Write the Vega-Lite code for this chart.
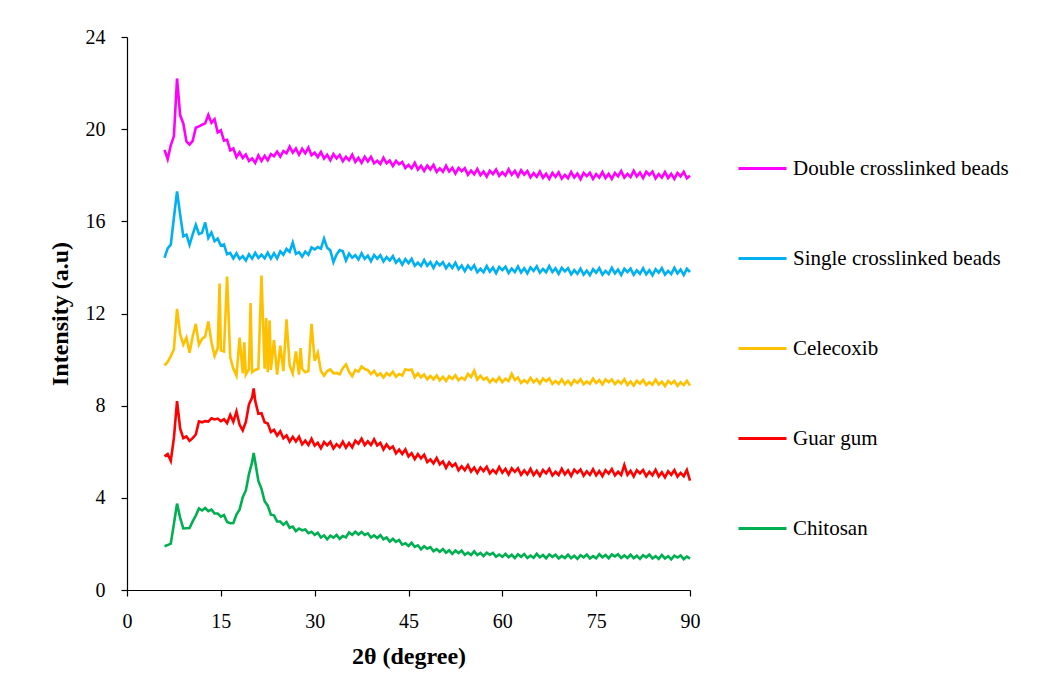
{
"$schema":"https://vega.github.io/schema/vega-lite/v6.json",
"width":563,"height":553,
"autosize":{"type":"none"},
"padding":{"left":127,"top":37,"right":351,"bottom":108},
"background":"white",
"data":{"values":[
{"x":6,"D":19.1,"S":14.42,"C":9.75,"G":5.8,"H":1.9},
{"x":6.5,"D":18.7,"S":14.83,"C":9.9,"G":5.9,"H":1.95},
{"x":7,"D":19.3,"S":14.99,"C":10.15,"G":5.6,"H":2.01},
{"x":7.5,"D":19.7,"S":16.16,"C":10.45,"G":6.6,"H":2.87},
{"x":8,"D":22.2,"S":17.3,"C":12.2,"G":8.2,"H":3.75},
{"x":8.5,"D":20.6,"S":16.29,"C":11.1,"G":7.0,"H":3.13},
{"x":9,"D":20.25,"S":15.35,"C":10.65,"G":6.59,"H":2.67},
{"x":9.5,"D":19.47,"S":15.42,"C":10.95,"G":6.66,"H":2.68},
{"x":10,"D":19.33,"S":14.98,"C":10.3,"G":6.47,"H":2.69},
{"x":10.5,"D":19.49,"S":15.43,"C":11.0,"G":6.59,"H":2.98},
{"x":11,"D":20.06,"S":15.85,"C":11.55,"G":6.75,"H":3.23},
{"x":11.5,"D":20.12,"S":15.45,"C":10.65,"G":7.32,"H":3.54},
{"x":12,"D":20.19,"S":15.5,"C":10.9,"G":7.28,"H":3.45},
{"x":12.5,"D":20.25,"S":15.95,"C":11.0,"G":7.33,"H":3.56},
{"x":13,"D":20.62,"S":15.28,"C":11.65,"G":7.31,"H":3.42},
{"x":13.5,"D":20.28,"S":15.51,"C":10.75,"G":7.45,"H":3.49},
{"x":14,"D":20.43,"S":15.14,"C":10.15,"G":7.4,"H":3.32},
{"x":14.5,"D":19.86,"S":15.25,"C":10.5,"G":7.44,"H":3.32},
{"x":14.8,"C":13.3},
{"x":15,"D":19.95,"S":14.95,"C":10.4,"G":7.33,"H":3.18},
{"x":15.5,"D":19.5,"S":15.0,"C":10.35,"G":7.41,"H":3.25},
{"x":16,"D":19.54,"S":14.57,"C":13.6,"G":7.24,"H":2.95},
{"x":16.5,"D":19.08,"S":14.63,"C":10.1,"G":7.6,"H":2.9},
{"x":17,"D":19.16,"S":14.39,"C":9.6,"G":7.3,"H":2.91},
{"x":17.5,"D":18.79,"S":14.61,"C":9.3,"G":7.75,"H":3.27},
{"x":18,"D":19.0,"S":14.37,"C":10.95,"G":7.17,"H":3.49},
{"x":18.5,"D":18.75,"S":14.49,"C":9.4,"G":6.93,"H":4.03},
{"x":18.75,"C":10.75},
{"x":19,"D":18.9,"S":14.3,"C":9.35,"G":7.29,"H":4.32},
{"x":19.5,"D":18.62,"S":14.57,"C":9.6,"G":8.06,"H":5.03},
{"x":19.75,"C":12.45},
{"x":20,"D":18.73,"S":14.38,"C":9.45,"G":8.35,"H":5.55},
{"x":20.25,"G":8.75,"H":5.95},
{"x":20.5,"D":18.54,"S":14.63,"C":9.55,"G":8.2,"H":5.55},
{"x":21,"D":18.86,"S":14.41,"C":9.6,"G":7.65,"H":4.73},
{"x":21.5,"D":18.62,"S":14.55,"C":13.65,"G":7.67,"H":4.39},
{"x":22,"D":18.84,"S":14.4,"C":9.6,"G":7.28,"H":3.85},
{"x":22.25,"C":11.8},
{"x":22.5,"D":18.65,"S":14.64,"C":9.45,"G":7.23,"H":3.66},
{"x":22.8,"C":11.7},
{"x":23,"D":18.92,"S":14.38,"C":9.55,"G":6.86,"H":3.27},
{"x":23.5,"D":18.83,"S":14.61,"C":10.85,"G":6.95,"H":3.24},
{"x":24,"D":19.03,"S":14.39,"C":9.35,"G":6.7,"H":2.97},
{"x":24.5,"D":18.81,"S":14.7,"C":10.6,"G":6.89,"H":2.97},
{"x":25,"D":19.05,"S":14.55,"C":9.5,"G":6.58,"H":2.83},
{"x":25.5,"D":18.95,"S":14.8,"C":11.75,"G":6.71,"H":2.95},
{"x":26,"D":19.24,"S":14.67,"C":9.75,"G":6.44,"H":2.7},
{"x":26.5,"D":18.98,"S":15.08,"C":9.4,"G":6.65,"H":2.75},
{"x":27,"D":19.16,"S":14.59,"C":10.35,"G":6.45,"H":2.56},
{"x":27.5,"D":18.89,"S":14.66,"C":9.35,"G":6.65,"H":2.67},
{"x":27.75,"C":10.5},
{"x":28,"D":19.15,"S":14.47,"C":9.6,"G":6.32,"H":2.59},
{"x":28.5,"D":18.95,"S":14.69,"C":9.45,"G":6.48,"H":2.63},
{"x":29,"D":19.2,"S":14.55,"C":9.5,"G":6.29,"H":2.47},
{"x":29.5,"D":18.87,"S":14.87,"C":11.55,"G":6.56,"H":2.53},
{"x":30,"D":18.98,"S":14.78,"C":9.95,"G":6.27,"H":2.39},
{"x":30.5,"D":18.79,"S":14.88,"C":10.3,"G":6.39,"H":2.48},
{"x":31,"D":19.01,"S":14.81,"C":9.5,"G":6.15,"H":2.28},
{"x":31.5,"D":18.72,"S":15.25,"C":9.3,"G":6.42,"H":2.37},
{"x":32,"D":18.89,"S":14.85,"C":9.5,"G":6.28,"H":2.2},
{"x":32.5,"D":18.65,"S":14.74,"C":9.57,"G":6.43,"H":2.36},
{"x":33,"D":18.92,"S":14.23,"C":9.4,"G":6.14,"H":2.27},
{"x":33.5,"D":18.73,"S":14.56,"C":9.42,"G":6.33,"H":2.39},
{"x":34,"D":18.88,"S":14.75,"C":9.36,"G":6.2,"H":2.22},
{"x":34.5,"D":18.61,"S":14.7,"C":9.63,"G":6.44,"H":2.34},
{"x":35,"D":18.8,"S":14.3,"C":9.79,"G":6.18,"H":2.28},
{"x":35.5,"D":18.65,"S":14.6,"C":9.47,"G":6.38,"H":2.5},
{"x":36,"D":18.89,"S":14.42,"C":9.28,"G":6.19,"H":2.4},
{"x":36.5,"D":18.58,"S":14.53,"C":9.55,"G":6.48,"H":2.53},
{"x":37,"D":18.76,"S":14.34,"C":9.48,"G":6.35,"H":2.41},
{"x":37.5,"D":18.54,"S":14.61,"C":9.7,"G":6.57,"H":2.52},
{"x":38,"D":18.8,"S":14.37,"C":9.59,"G":6.29,"H":2.39},
{"x":38.5,"D":18.6,"S":14.51,"C":9.54,"G":6.45,"H":2.46},
{"x":39,"D":18.8,"S":14.27,"C":9.37,"G":6.29,"H":2.28},
{"x":39.5,"D":18.52,"S":14.54,"C":9.51,"G":6.54,"H":2.37},
{"x":40,"D":18.63,"S":14.38,"C":9.3,"G":6.27,"H":2.26},
{"x":40.5,"D":18.49,"S":14.53,"C":9.4,"G":6.39,"H":2.38},
{"x":41,"D":18.76,"S":14.26,"C":9.22,"G":6.1,"H":2.2},
{"x":41.5,"D":18.52,"S":14.45,"C":9.41,"G":6.32,"H":2.28},
{"x":42,"D":18.64,"S":14.3,"C":9.31,"G":6.13,"H":2.1},
{"x":42.5,"D":18.4,"S":14.49,"C":9.47,"G":6.23,"H":2.22},
{"x":43,"D":18.62,"S":14.21,"C":9.25,"G":5.93,"H":2.09},
{"x":43.5,"D":18.48,"S":14.36,"C":9.37,"G":6.09,"H":2.17},
{"x":44,"D":18.58,"S":14.12,"C":9.31,"G":5.9,"H":1.97},
{"x":44.5,"D":18.31,"S":14.36,"C":9.58,"G":6.1,"H":2.03},
{"x":45,"D":18.45,"S":14.19,"C":9.54,"G":5.8,"H":1.91},
{"x":45.5,"D":18.3,"S":14.37,"C":9.57,"G":5.94,"H":2.05},
{"x":46,"D":18.54,"S":14.07,"C":9.23,"G":5.68,"H":1.87},
{"x":46.5,"D":18.25,"S":14.21,"C":9.4,"G":5.9,"H":1.94},
{"x":47,"D":18.41,"S":14.06,"C":9.23,"G":5.71,"H":1.77},
{"x":47.5,"D":18.19,"S":14.32,"C":9.35,"G":5.87,"H":1.9},
{"x":48,"D":18.42,"S":14.07,"C":9.14,"G":5.55,"H":1.79},
{"x":48.5,"D":18.25,"S":14.23,"C":9.29,"G":5.67,"H":1.86},
{"x":49,"D":18.45,"S":13.98,"C":9.14,"G":5.49,"H":1.68},
{"x":49.5,"D":18.15,"S":14.24,"C":9.31,"G":5.73,"H":1.77},
{"x":50,"D":18.3,"S":14.09,"C":9.1,"G":5.45,"H":1.66},
{"x":50.5,"D":18.15,"S":14.23,"C":9.25,"G":5.58,"H":1.78},
{"x":51,"D":18.41,"S":13.96,"C":9.07,"G":5.3,"H":1.62},
{"x":51.5,"D":18.16,"S":14.15,"C":9.28,"G":5.54,"H":1.72},
{"x":52,"D":18.32,"S":13.98,"C":9.16,"G":5.37,"H":1.57},
{"x":52.5,"D":18.07,"S":14.2,"C":9.32,"G":5.49,"H":1.71},
{"x":53,"D":18.32,"S":13.92,"C":9.1,"G":5.2,"H":1.6},
{"x":53.5,"D":18.18,"S":14.08,"C":9.22,"G":5.37,"H":1.71},
{"x":54,"D":18.31,"S":13.84,"C":9.13,"G":5.2,"H":1.53},
{"x":54.5,"D":18.02,"S":14.08,"C":9.38,"G":5.42,"H":1.62},
{"x":55,"D":18.2,"S":13.91,"C":9.24,"G":5.14,"H":1.52},
{"x":55.5,"D":18.04,"S":14.09,"C":9.52,"G":5.31,"H":1.68},
{"x":56,"D":18.27,"S":13.79,"C":9.13,"G":5.08,"H":1.52},
{"x":56.5,"D":18.0,"S":13.94,"C":9.3,"G":5.32,"H":1.61},
{"x":57,"D":18.16,"S":13.79,"C":9.13,"G":5.16,"H":1.47},
{"x":57.5,"D":17.94,"S":14.06,"C":9.22,"G":5.35,"H":1.62},
{"x":58,"D":18.2,"S":13.82,"C":9.01,"G":5.06,"H":1.53},
{"x":58.5,"D":18.05,"S":13.99,"C":9.16,"G":5.21,"H":1.61},
{"x":59,"D":18.25,"S":13.75,"C":9.04,"G":5.07,"H":1.44},
{"x":59.5,"D":17.97,"S":14.02,"C":9.23,"G":5.34,"H":1.54},
{"x":60,"D":18.13,"S":13.88,"C":9.02,"G":5.09,"H":1.44},
{"x":60.5,"D":17.99,"S":14.03,"C":9.17,"G":5.26,"H":1.57},
{"x":61,"D":18.26,"S":13.76,"C":9.07,"G":5.01,"H":1.42},
{"x":61.5,"D":18.02,"S":13.95,"C":9.38,"G":5.28,"H":1.53},
{"x":62,"D":18.19,"S":13.8,"C":9.11,"G":5.13,"H":1.39},
{"x":62.5,"D":17.95,"S":14.04,"C":9.22,"G":5.28,"H":1.55},
{"x":63,"D":18.22,"S":13.78,"C":8.98,"G":5.0,"H":1.44},
{"x":63.5,"D":18.03,"S":13.96,"C":9.1,"G":5.19,"H":1.56},
{"x":64,"D":18.18,"S":13.74,"C":8.99,"G":5.02,"H":1.39},
{"x":64.5,"D":17.91,"S":14.0,"C":9.21,"G":5.26,"H":1.49},
{"x":65,"D":18.09,"S":13.85,"C":9.02,"G":4.99,"H":1.4},
{"x":65.5,"D":17.93,"S":14.05,"C":9.15,"G":5.17,"H":1.57},
{"x":66,"D":18.16,"S":13.77,"C":8.96,"G":4.95,"H":1.42},
{"x":66.5,"D":17.89,"S":13.93,"C":9.18,"G":5.21,"H":1.52},
{"x":67,"D":18.06,"S":13.79,"C":9.06,"G":5.06,"H":1.38},
{"x":67.5,"D":17.84,"S":14.06,"C":9.18,"G":5.26,"H":1.54},
{"x":68,"D":18.1,"S":13.8,"C":8.94,"G":4.97,"H":1.44},
{"x":68.5,"D":17.93,"S":13.96,"C":9.07,"G":5.13,"H":1.53},
{"x":69,"D":18.13,"S":13.72,"C":8.95,"G":4.99,"H":1.37},
{"x":69.5,"D":17.85,"S":13.98,"C":9.14,"G":5.26,"H":1.48},
{"x":70,"D":18.01,"S":13.83,"C":8.93,"G":5.02,"H":1.39},
{"x":70.5,"D":17.87,"S":13.97,"C":9.08,"G":5.19,"H":1.53},
{"x":71,"D":18.14,"S":13.7,"C":8.9,"G":4.95,"H":1.38},
{"x":71.5,"D":17.9,"S":13.88,"C":9.11,"G":5.22,"H":1.49},
{"x":72,"D":18.07,"S":13.72,"C":8.99,"G":5.08,"H":1.35},
{"x":72.5,"D":17.83,"S":13.95,"C":9.15,"G":5.23,"H":1.51},
{"x":73,"D":18.1,"S":13.69,"C":8.93,"G":4.96,"H":1.42},
{"x":73.5,"D":17.96,"S":13.86,"C":9.05,"G":5.15,"H":1.54},
{"x":74,"D":18.11,"S":13.66,"C":8.95,"G":5.0,"H":1.37},
{"x":74.5,"D":17.84,"S":13.92,"C":9.17,"G":5.24,"H":1.47},
{"x":75,"D":18.05,"S":13.77,"C":8.98,"G":4.98,"H":1.38},
{"x":75.5,"D":17.9,"S":13.97,"C":9.11,"G":5.16,"H":1.55},
{"x":76,"D":18.14,"S":13.69,"C":8.92,"G":4.94,"H":1.42},
{"x":76.5,"D":17.88,"S":13.85,"C":9.14,"G":5.2,"H":1.52},
{"x":77,"D":18.06,"S":13.71,"C":9.02,"G":5.05,"H":1.38},
{"x":77.5,"D":17.84,"S":13.98,"C":9.14,"G":5.25,"H":1.54},
{"x":78,"D":18.1,"S":13.74,"C":8.93,"G":4.97,"H":1.46},
{"x":78.5,"D":17.95,"S":13.91,"C":9.08,"G":5.13,"H":1.55},
{"x":79,"D":18.18,"S":13.67,"C":8.96,"G":4.99,"H":1.39},
{"x":79.5,"D":17.9,"S":13.94,"C":9.15,"G":5.42,"H":1.5},
{"x":80,"D":18.06,"S":13.8,"C":8.9,"G":5.0,"H":1.39},
{"x":80.5,"D":17.92,"S":13.95,"C":9.05,"G":5.17,"H":1.53},
{"x":81,"D":18.19,"S":13.68,"C":8.87,"G":4.93,"H":1.38},
{"x":81.5,"D":17.95,"S":13.87,"C":9.08,"G":5.2,"H":1.49},
{"x":82,"D":18.12,"S":13.72,"C":8.96,"G":5.06,"H":1.35},
{"x":82.5,"D":17.88,"S":13.96,"C":9.12,"G":5.21,"H":1.51},
{"x":83,"D":18.15,"S":13.7,"C":8.9,"G":4.94,"H":1.42},
{"x":83.5,"D":18.01,"S":13.88,"C":9.02,"G":5.13,"H":1.54},
{"x":84,"D":18.16,"S":13.66,"C":8.91,"G":4.98,"H":1.37},
{"x":84.5,"D":17.86,"S":13.92,"C":9.13,"G":5.22,"H":1.47},
{"x":85,"D":18.05,"S":13.77,"C":8.92,"G":4.93,"H":1.35},
{"x":85.5,"D":17.9,"S":13.97,"C":9.04,"G":5.11,"H":1.52},
{"x":86,"D":18.14,"S":13.69,"C":8.85,"G":4.89,"H":1.37},
{"x":86.5,"D":17.88,"S":13.85,"C":9.07,"G":5.15,"H":1.47},
{"x":87,"D":18.06,"S":13.71,"C":8.95,"G":5.0,"H":1.33},
{"x":87.5,"D":17.84,"S":13.98,"C":9.07,"G":5.2,"H":1.49},
{"x":88,"D":18.1,"S":13.74,"C":8.86,"G":4.92,"H":1.41},
{"x":88.5,"D":17.95,"S":13.91,"C":9.01,"G":5.08,"H":1.5},
{"x":89,"D":18.15,"S":13.67,"C":8.89,"G":4.94,"H":1.34},
{"x":89.5,"D":17.87,"S":13.94,"C":9.08,"G":5.21,"H":1.45},
{"x":90,"D":17.98,"S":13.8,"C":8.87,"G":4.75,"H":1.36}
]},
"transform":[
{"fold":["D","S","C","G","H"],"as":["k","v"]},
{"filter":"isValid(datum.v)"}
],
"mark":{"type":"line","strokeWidth":2.6},
"encoding":{
"x":{"field":"x","type":"quantitative","scale":{"domain":[0,90],"nice":false},
"axis":{"values":[0,15,30,45,60,75,90],"title":"2θ (degree)","labelFlush":false,"labelPadding":15,"titlePadding":13}},
"y":{"field":"v","type":"quantitative","scale":{"domain":[0,24],"nice":false},
"axis":{"values":[0,4,8,12,16,20,24],"title":"Intensity (a.u)","labelPadding":16,"titlePadding":13}},
"color":{"field":"k","type":"nominal",
"scale":{"domain":["D","S","C","G","H"],"range":["#FF00FF","#00B0F0","#FFC000","#FF0000","#00B050"]},
"legend":{"orient":"none","legendX":610,"legendY":106,"title":null,"padding":0,
"symbolType":"stroke","symbolSize":2304,"symbolStrokeWidth":3,"labelLimit":400,
"labelFont":"Liberation Serif","labelFontSize":21,"labelColor":"#000","labelOffset":5,"rowPadding":54,
"labelExpr":"datum.value=='D'?'Double crosslinked beads':datum.value=='S'?'Single crosslinked beads':datum.value=='C'?'Celecoxib':datum.value=='G'?'Guar gum':'Chitosan'"}}
},
"config":{
"view":{"stroke":null},
"font":"Liberation Serif",
"axis":{"grid":false,"domainColor":"#000","domainWidth":1.2,"tickColor":"#000","tickWidth":1.2,"tickSize":6,
"labelFont":"Liberation Serif","labelFontSize":20,"labelColor":"#000",
"titleFont":"Liberation Serif","titleFontSize":24,"titleFontWeight":"bold","titleColor":"#000"}
}
}
